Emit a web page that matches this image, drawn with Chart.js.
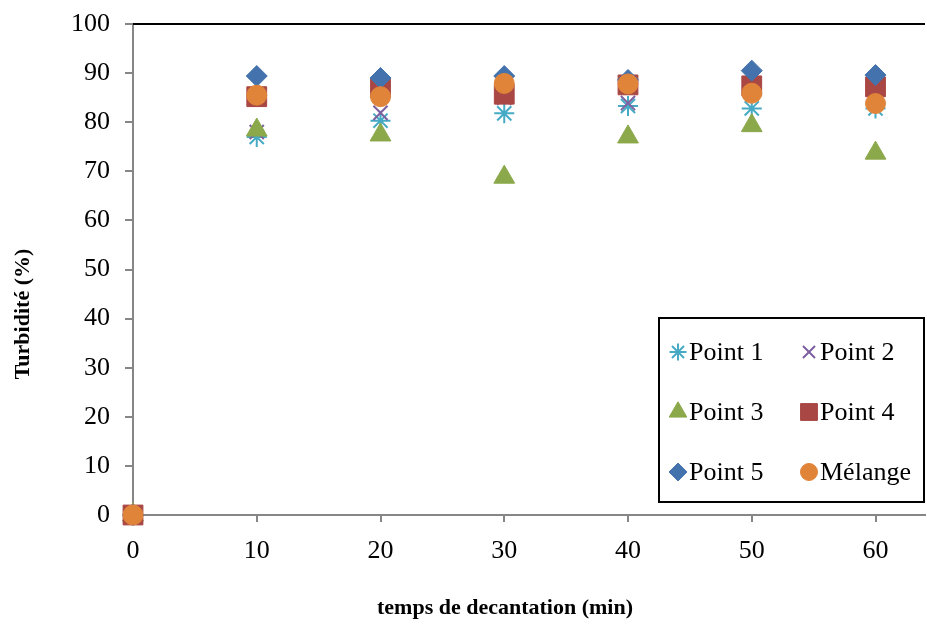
<!DOCTYPE html>
<html>
<head>
<meta charset="utf-8">
<script src="https://cdn.jsdelivr.net/npm/chart.js@4"></script>
<style>
  html, body { margin: 0; padding: 0; background: #fff; }
  #wrap { width: 927px; height: 624px; }
</style>
</head>
<body>
<div id="wrap"><canvas id="chartTurbidite" width="927" height="624"></canvas></div>
<script>
// temps de decantation (min)
const temps = [0, 10, 20, 30, 40, 50, 60];

// turbidité (%) par point de prélèvement
const point1 = [0, 77.0, 80.3, 81.8, 83.3, 82.8, 82.8];
const point2 = [0, 78.0, 81.9, 85.0, 83.9, 86.0, 85.0];
const point3 = [0, 78.4, 77.4, 68.8, 77.0, 79.3, 73.7];
const point4 = [0, 85.2, 87.0, 85.7, 87.6, 87.4, 87.2];
const point5 = [0, 89.4, 89.0, 89.4, 88.6, 90.5, 89.6];
const melange = [0, 85.5, 85.2, 87.9, 87.8, 85.9, 83.8];

const titreX = 'temps de decantation (min)';
const titreY = 'Turbidité (%)';

const serie = [
  { label: 'Point 1', data: point1, style: 'star', color: '#46AAC5', radius: 10, line: 2 },
  { label: 'Point 2', data: point2, style: 'crossRot', color: '#7D5FA0', radius: 10, line: 2 },
  { label: 'Point 3', data: point3, style: 'triangle', color: '#8BA84A', radius: 12, line: 1 },
  { label: 'Point 4', data: point4, style: 'rect', color: '#A94744', radius: 14, line: 1 },
  { label: 'Point 5', data: point5, style: 'rectRot', color: '#4372AC', radius: 10.5, line: 1 },
  { label: 'Mélange', data: melange, style: 'circle', color: '#E0843A', radius: 10, line: 1 },
];

const font = 'Liberation Serif';
const gris = '#868686';

// ligne noire en haut de la zone de tracé + titres des axes
const cadre = {
  id: 'cadre',
  afterDraw(chart) {
    const { ctx, chartArea } = chart;
    ctx.save();
    ctx.strokeStyle = '#000';
    ctx.lineWidth = 2;
    ctx.beginPath();
    ctx.moveTo(chartArea.left, chartArea.top);
    ctx.lineTo(chartArea.right, chartArea.top);
    ctx.stroke();

    ctx.fillStyle = '#000';
    ctx.font = 'bold 22px "' + font + '"';
    ctx.textAlign = 'center';
    ctx.textBaseline = 'middle';
    ctx.fillText(titreX, 505, 608);

    ctx.translate(23, 314);
    ctx.rotate(-Math.PI / 2);
    ctx.fillText(titreY, 0, 0);
    ctx.restore();
  },
};

// légende encadrée sur deux colonnes
const legendeBoite = {
  id: 'legendeBoite',
  afterDraw(chart) {
    const { ctx } = chart;
    const box = { x: 659, y: 318, w: 265, h: 184 };
    ctx.save();
    ctx.fillStyle = '#fff';
    ctx.fillRect(box.x, box.y, box.w, box.h);
    ctx.strokeStyle = '#000';
    ctx.lineWidth = 2;
    ctx.strokeRect(box.x, box.y, box.w, box.h);

    ctx.font = '26px "' + font + '"';
    ctx.textBaseline = 'middle';
    serie.forEach((s, i) => {
      const col = i % 2;
      const row = Math.floor(i / 2);
      const mx = box.x + 19 + col * 131;
      const my = box.y + 34 + row * 60;
      ctx.fillStyle = s.color;
      ctx.strokeStyle = s.color;
      ctx.lineWidth = s.line;
      Chart.helpers.drawPoint(ctx, {
        pointStyle: s.style,
        radius: s.radius * 0.85,
        borderWidth: s.line,
        rotation: 0,
      }, mx, my);
      ctx.fillStyle = '#000';
      ctx.fillText(s.label, mx + 11, my + 1);
    });
    ctx.restore();
  },
};

const ctx = document.getElementById('chartTurbidite');

new Chart(ctx, {
  type: 'scatter',
  data: {
    datasets: serie.map((s, i) => ({
      label: s.label,
      data: temps.map((t, k) => ({ x: t, y: s.data[k] })),
      pointStyle: s.style,
      pointRadius: s.radius,
      pointHoverRadius: s.radius,
      backgroundColor: s.color,
      borderColor: s.color,
      borderWidth: s.line,
      order: serie.length - i,
      clip: false,
    })),
  },
  options: {
    responsive: false,
    animation: false,
    layout: { autoPadding: false, padding: { top: 24, right: 2, left: 0, bottom: 0 } },
    plugins: {
      legend: { display: false },
      tooltip: { enabled: false },
    },
    scales: {
      x: {
        type: 'linear',
        min: 0,
        max: 64,
        afterBuildTicks: (s) => { s.ticks = s.ticks.filter((t) => t.value % 10 === 0); },
        afterFit: (s) => { s.height = 109; s.paddingLeft = 0; s.paddingRight = 0; },
        ticks: { stepSize: 10, color: '#000', padding: 14, font: { family: font, size: 26 } },
        grid: { drawOnChartArea: false, tickLength: 7, color: gris, lineWidth: 2 },
        border: { color: gris, width: 2 },
      },
      y: {
        min: 0,
        max: 100,
        afterFit: (s) => { s.width = 133; s.paddingTop = 0; s.paddingBottom = 0; },
        ticks: { stepSize: 10, color: '#000', padding: 15, font: { family: font, size: 26 } },
        grid: { drawOnChartArea: false, tickLength: 8, color: gris, lineWidth: 2 },
        border: { color: gris, width: 2 },
      },
    },
  },
  plugins: [cadre, legendeBoite],
});
</script>
</body>
</html>
